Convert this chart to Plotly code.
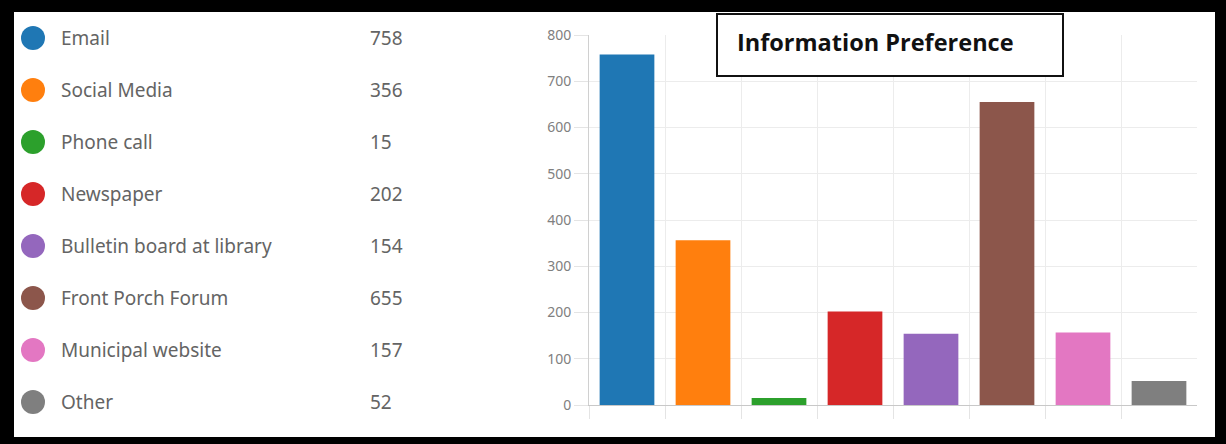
import plotly.graph_objects as go

# Survey results: how residents prefer to receive information
categories = ["Email", "Social Media", "Phone call", "Newspaper",
              "Bulletin board at library", "Front Porch Forum",
              "Municipal website", "Other"]
counts = [758, 356, 15, 202, 154, 655, 157, 52]
colors = ["#1f77b4", "#ff7f0e", "#2ca02c", "#d62728",
          "#9467bd", "#8c564b", "#e377c2", "#7f7f7f"]
y_ticks = [0, 100, 200, 300, 400, 500, 600, 700, 800]
title_text = "Information Preference"

W, H = 1226, 444
positions = list(range(len(categories)))


def px_x(v):
    return v / W


def px_y(v):
    return 1 - v / H


fig = go.Figure()

# Bar chart
fig.add_trace(go.Bar(
    x=positions, y=counts, marker=dict(color=colors, line=dict(width=0)),
    width=0.72, hovertext=categories, xaxis="x", yaxis="y", showlegend=False,
))

# Legend-style list on the left: coloured dot per category
fig.add_trace(go.Scatter(
    x=[33] * len(categories), y=positions, mode="markers",
    marker=dict(color=colors, size=24, line=dict(width=0)),
    xaxis="x2", yaxis="y2", showlegend=False, hoverinfo="skip",
))

list_font = dict(family="Noto Sans", size=19, color="#646464")
annotations = []
for i, (name, val) in enumerate(zip(categories, counts)):
    annotations.append(dict(
        x=59, y=i, xref="x2", yref="y2", text=name, showarrow=False,
        xanchor="left", yanchor="middle", font=list_font,
    ))
    annotations.append(dict(
        x=368, y=i, xref="x2", yref="y2", text=str(val), showarrow=False,
        xanchor="left", yanchor="middle", font=list_font,
    ))

# Boxed chart title
annotations.append(dict(
    x=px_x(735), y=px_y(42), xref="paper", yref="paper", text="<b>" + title_text + "</b>",
    showarrow=False, xanchor="left", yanchor="middle",
    font=dict(family="Open Sans", size=23.5, color="#111111"),
))

shapes = [
    # white card inside the black frame
    dict(type="rect", xref="paper", yref="paper",
         x0=px_x(14), x1=px_x(1215), y0=px_y(437), y1=px_y(12),
         fillcolor="white", line=dict(width=0), layer="below"),
    # title box
    dict(type="rect", xref="paper", yref="paper",
         x0=px_x(717), x1=px_x(1063), y0=px_y(76), y1=px_y(14),
         fillcolor="white", line=dict(color="#111111", width=2), layer="above"),
]

fig.update_layout(
    width=W, height=H,
    margin=dict(l=0, r=0, t=0, b=0, pad=0, autoexpand=False),
    paper_bgcolor="black",
    plot_bgcolor="rgba(0,0,0,0)",
    shapes=shapes,
    annotations=annotations,
    xaxis=dict(
        domain=[px_x(589), px_x(1197)], range=[-0.5, 7.5],
        tickvals=[p - 0.5 for p in positions], showticklabels=False,
        ticks="outside", ticklen=13, tickcolor="#e4e4e4", tickwidth=1,
        showgrid=True, gridcolor="#ececec", gridwidth=1,
        showline=True, linecolor="#c8c8c8", linewidth=1,
        zeroline=False, fixedrange=True, automargin=False,
    ),
    yaxis=dict(
        domain=[px_y(405), px_y(35)], range=[0, 800],
        tickvals=y_ticks, ticks="outside", ticklen=14, tickcolor="#e4e4e4",
        tickfont=dict(family="Noto Sans", size=14, color="#808080"),
        showgrid=True, gridcolor="#ececec", gridwidth=1,
        showline=True, linecolor="#d0d0d0", linewidth=1,
        zeroline=False, fixedrange=True, automargin=False,
    ),
    xaxis2=dict(
        domain=[0, px_x(420)], range=[0, 420], visible=False,
        fixedrange=True, automargin=False,
    ),
    yaxis2=dict(
        domain=[px_y(428), px_y(12)], range=[7.5, -0.5], anchor="x2",
        visible=False, fixedrange=True, automargin=False,
    ),
)

fig.write_html("out.html")
